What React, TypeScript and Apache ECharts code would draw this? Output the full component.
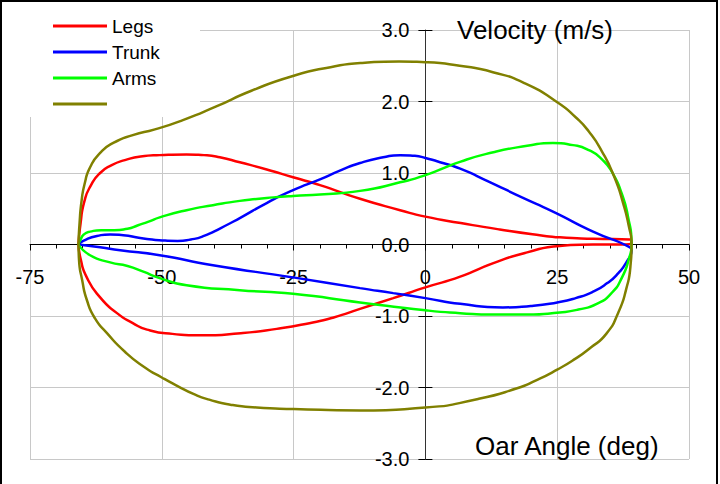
import React, { useEffect, useRef } from "react";
import * as echarts from "echarts";

// Oar angle (deg) vs velocity (m/s): upper branch catch -> finish, lower branch finish -> catch
const legsUpper = [[-65.8,0],[-65.4,0.3],[-64.7,0.6],[-63.5,0.82],[-61.7,1.0],[-59.5,1.11],[-57,1.18],[-54,1.23],[-50.4,1.25],[-45.3,1.26],[-42,1.25],[-39,1.22],[-35.2,1.15],[-30.1,1.05],[-25.1,0.94],[-20,0.83],[-12.4,0.64],[-4.8,0.48],[0,0.39],[6.7,0.3],[14.1,0.21],[21.7,0.13],[25.5,0.1],[31.8,0.08],[38.8,0.07],[39.1,0.03]];
const legsLower = [[38,0.0],[31.8,0.0],[25.5,-0.02],[19.3,-0.11],[12.9,-0.26],[6.6,-0.45],[0,-0.6],[-6.1,-0.75],[-12.4,-0.9],[-17.4,-1.02],[-22,-1.1],[-28.2,-1.18],[-35,-1.24],[-42.8,-1.27],[-48,-1.25],[-52.8,-1.19],[-55.5,-1.1],[-58.5,-0.96],[-61.7,-0.74],[-64.3,-0.45],[-65.4,-0.2],[-65.8,0]];
const trunkUpper = [[-65.8,0],[-64.9,0.05],[-62.3,0.12],[-59.8,0.14],[-57.3,0.13],[-54.1,0.09],[-50.5,0.06],[-47,0.05],[-44.5,0.07],[-42,0.12],[-38.8,0.23],[-35.2,0.37],[-30.1,0.58],[-25.1,0.76],[-20,0.91],[-16,1.04],[-12.4,1.14],[-8,1.22],[-4.8,1.25],[-2,1.24],[0,1.21],[3.3,1.14],[6.6,1.06],[12,0.88],[18,0.67],[24.2,0.46],[31.8,0.18],[38.8,-0.04],[39.1,-0.08]];
const trunkLower = [[38.2,-0.24],[36.6,-0.4],[34.5,-0.54],[31.8,-0.66],[28.5,-0.75],[25,-0.81],[20,-0.86],[14.7,-0.88],[6.6,-0.83],[0,-0.75],[-6.1,-0.68],[-12.4,-0.61],[-25.1,-0.46],[-40.3,-0.29],[-50.4,-0.15],[-57.9,-0.08],[-61.7,-0.04],[-65.8,0]];
const armsUpper = [[-65.8,0],[-65.4,0.07],[-64.8,0.14],[-63.6,0.18],[-61.5,0.2],[-59,0.2],[-56.5,0.22],[-54.5,0.27],[-52.5,0.32],[-50.4,0.38],[-45.3,0.48],[-40.3,0.55],[-35.2,0.61],[-30.1,0.65],[-25.1,0.68],[-20,0.7],[-12.4,0.75],[-4.8,0.87],[0,0.97],[6.7,1.16],[12.9,1.29],[19.3,1.38],[24.2,1.42],[28,1.39],[31,1.32],[33.5,1.19],[35.5,1.0],[37.2,0.72],[38.4,0.4],[39.1,0]];
const armsLower = [[38.6,-0.2],[37.3,-0.46],[35.3,-0.68],[32.5,-0.83],[29,-0.91],[25.5,-0.95],[19.3,-0.98],[12.9,-0.98],[6.6,-0.96],[0,-0.92],[-12.4,-0.81],[-25.1,-0.69],[-35.2,-0.64],[-45.3,-0.57],[-50.4,-0.47],[-53.5,-0.38],[-56.5,-0.3],[-59.8,-0.25],[-63.6,-0.15],[-65.8,0]];
const totalUpper = [[-65.8,0],[-65.6,0.3],[-65.2,0.62],[-64.6,0.86],[-63.6,1.08],[-61.7,1.28],[-59.2,1.42],[-55.5,1.53],[-51.3,1.61],[-46,1.74],[-40,1.92],[-33,2.15],[-25,2.36],[-18,2.48],[-12,2.54],[-5,2.56],[0,2.55],[6.5,2.5],[12.8,2.41],[19,2.25],[25,1.99],[28.5,1.78],[31,1.58],[33.5,1.3],[35.8,0.95],[37.5,0.58],[38.6,0.25],[39.1,0]];
const totalLower = [[38.9,-0.3],[38.1,-0.62],[36.6,-0.95],[34.3,-1.25],[31.2,-1.45],[28.4,-1.6],[25,-1.75],[21,-1.9],[17.4,-2.01],[10,-2.16],[0,-2.28],[-12.4,-2.32],[-25,-2.3],[-32,-2.28],[-37,-2.24],[-41,-2.17],[-44,-2.09],[-47,-1.98],[-50,-1.86],[-53.2,-1.72],[-57,-1.5],[-60.4,-1.24],[-62.7,-1.03],[-64.2,-0.78],[-65.1,-0.5],[-65.7,-0.22],[-65.8,0]];

const seriesNames = ["Legs", "Trunk", "Arms", " "];
const seriesColors = ["#ff0000", "#0000ff", "#00ff00", "#808000"];
const xTicks = { min: -75, max: 50, interval: 25 };
const yTicks = { min: -3, max: 3, interval: 1 };
const yTitle = "Velocity (m/s)";
const xTitle = "Oar Angle (deg)";

const FONT = "Liberation Sans";

export default function App() {
  const ref = useRef<HTMLDivElement>(null);
  useEffect(() => {
    if (!ref.current) return;
    const chart = echarts.init(ref.current, undefined, { renderer: "svg" });
    const loops = [
      [...legsUpper, ...legsLower],
      [...trunkUpper, ...trunkLower],
      [...armsUpper, ...armsLower],
      [...totalUpper, ...totalLower],
    ];
    const gridLeft = 30;
    const gridRight = 31;
    const gridTop = 30;
    const gridBottom = 25;
    const plotW = 720 - gridLeft - gridRight;
    const plotH = 484 - gridTop - gridBottom;
    const xZero = ((0 - xTicks.min) / (xTicks.max - xTicks.min)) * plotW;
    const yZero = ((0 - yTicks.min) / (yTicks.max - yTicks.min)) * plotH;
    const yRange = { min: yTicks.min, max: yTicks.max, interval: yTicks.interval };
    const xRange = { min: xTicks.min, max: xTicks.max, interval: xTicks.interval };
    chart.setOption({
      animation: false,
      backgroundColor: "#fff",
      grid: {
        left: gridLeft,
        right: gridRight,
        top: gridTop,
        bottom: gridBottom,
        containLabel: false,
        outerBoundsMode: "none",
      },
      legend: {
        data: seriesNames,
        orient: "vertical",
        left: 53,
        top: 16.5,
        padding: 0,
        itemWidth: 54,
        itemHeight: 3,
        itemGap: 7,
        icon: "rect",
        selectedMode: false,
        z: 20,
        textStyle: { fontSize: 19, lineHeight: 19, fontFamily: FONT, color: "#000" },
      },
      xAxis: [
        {
          type: "value",
          ...xRange,
          axisLine: { show: true, onZero: true, lineStyle: { color: "#000", width: 1 } },
          axisTick: { show: false },
          axisLabel: { show: false },
          splitLine: { show: true, lineStyle: { color: "#c8c8c8", width: 1 } },
        },
        {
          type: "value",
          position: "bottom",
          offset: -yZero,
          ...xRange,
          axisLine: { show: false, onZero: false },
          axisTick: { show: true, length: 6, lineStyle: { color: "#000" } },
          minorTick: { show: true, splitNumber: 5, length: 4, lineStyle: { color: "#000" } },
          axisLabel: { fontSize: 20, fontFamily: FONT, color: "#000", margin: 22 },
          splitLine: { show: false },
        },
      ],
      yAxis: [
        {
          type: "value",
          ...yRange,
          axisLine: { show: true, onZero: true, lineStyle: { color: "#333", width: 1 } },
          axisTick: { show: false },
          axisLabel: { show: false },
          splitLine: { show: true, lineStyle: { color: "#c8c8c8", width: 1 } },
        },
        {
          type: "value",
          position: "left",
          offset: -xZero,
          ...yRange,
          axisLine: { show: false, onZero: false },
          axisTick: { show: true, length: 7, lineStyle: { color: "#000" } },
          axisLabel: {
            fontSize: 20,
            fontFamily: FONT,
            color: "#000",
            margin: 16,
            formatter: (v: number) => v.toFixed(1),
          },
          splitLine: { show: false },
        },
        {
          type: "value",
          position: "left",
          offset: -xZero,
          ...yRange,
          axisLine: { show: false, onZero: false },
          axisTick: { show: true, inside: true, length: 7, lineStyle: { color: "#000" } },
          axisLabel: { show: false },
          splitLine: { show: false },
        },
      ],
      graphic: {
        elements: [
          {
            type: "rect",
            z: 1,
            silent: true,
            shape: { x: 0, y: 0, width: 200, height: 117 },
            style: { fill: "#fff" },
          },
          {
            type: "text",
            z: 5,
            x: 457,
            y: 30,
            style: { text: yTitle, fontSize: 26, fontFamily: FONT, fill: "#000", verticalAlign: "middle" },
          },
          {
            type: "text",
            z: 5,
            x: 475,
            y: 446,
            style: { text: xTitle, fontSize: 26, fontFamily: FONT, fill: "#000", verticalAlign: "middle" },
          },
          {
            type: "rect",
            z: 30,
            silent: true,
            shape: { x: 1, y: 1, width: 716, height: 492 },
            style: { fill: "none", stroke: "#000", lineWidth: 2 },
          },
        ],
      },
      series: loops.map((d, i) => ({
        name: seriesNames[i],
        type: "line",
        data: d,
        xAxisIndex: 0,
        yAxisIndex: 0,
        smooth: 0.6,
        symbol: "none",
        showSymbol: false,
        color: seriesColors[i],
        lineStyle: { color: seriesColors[i], width: 2.5 },
        z: 3,
      })),
    });
    return () => chart.dispose();
  }, []);
  return (
    <div
      ref={ref}
      style={{ position: "fixed", left: 0, top: 0, width: 720, height: 484 }}
    />
  );
}
